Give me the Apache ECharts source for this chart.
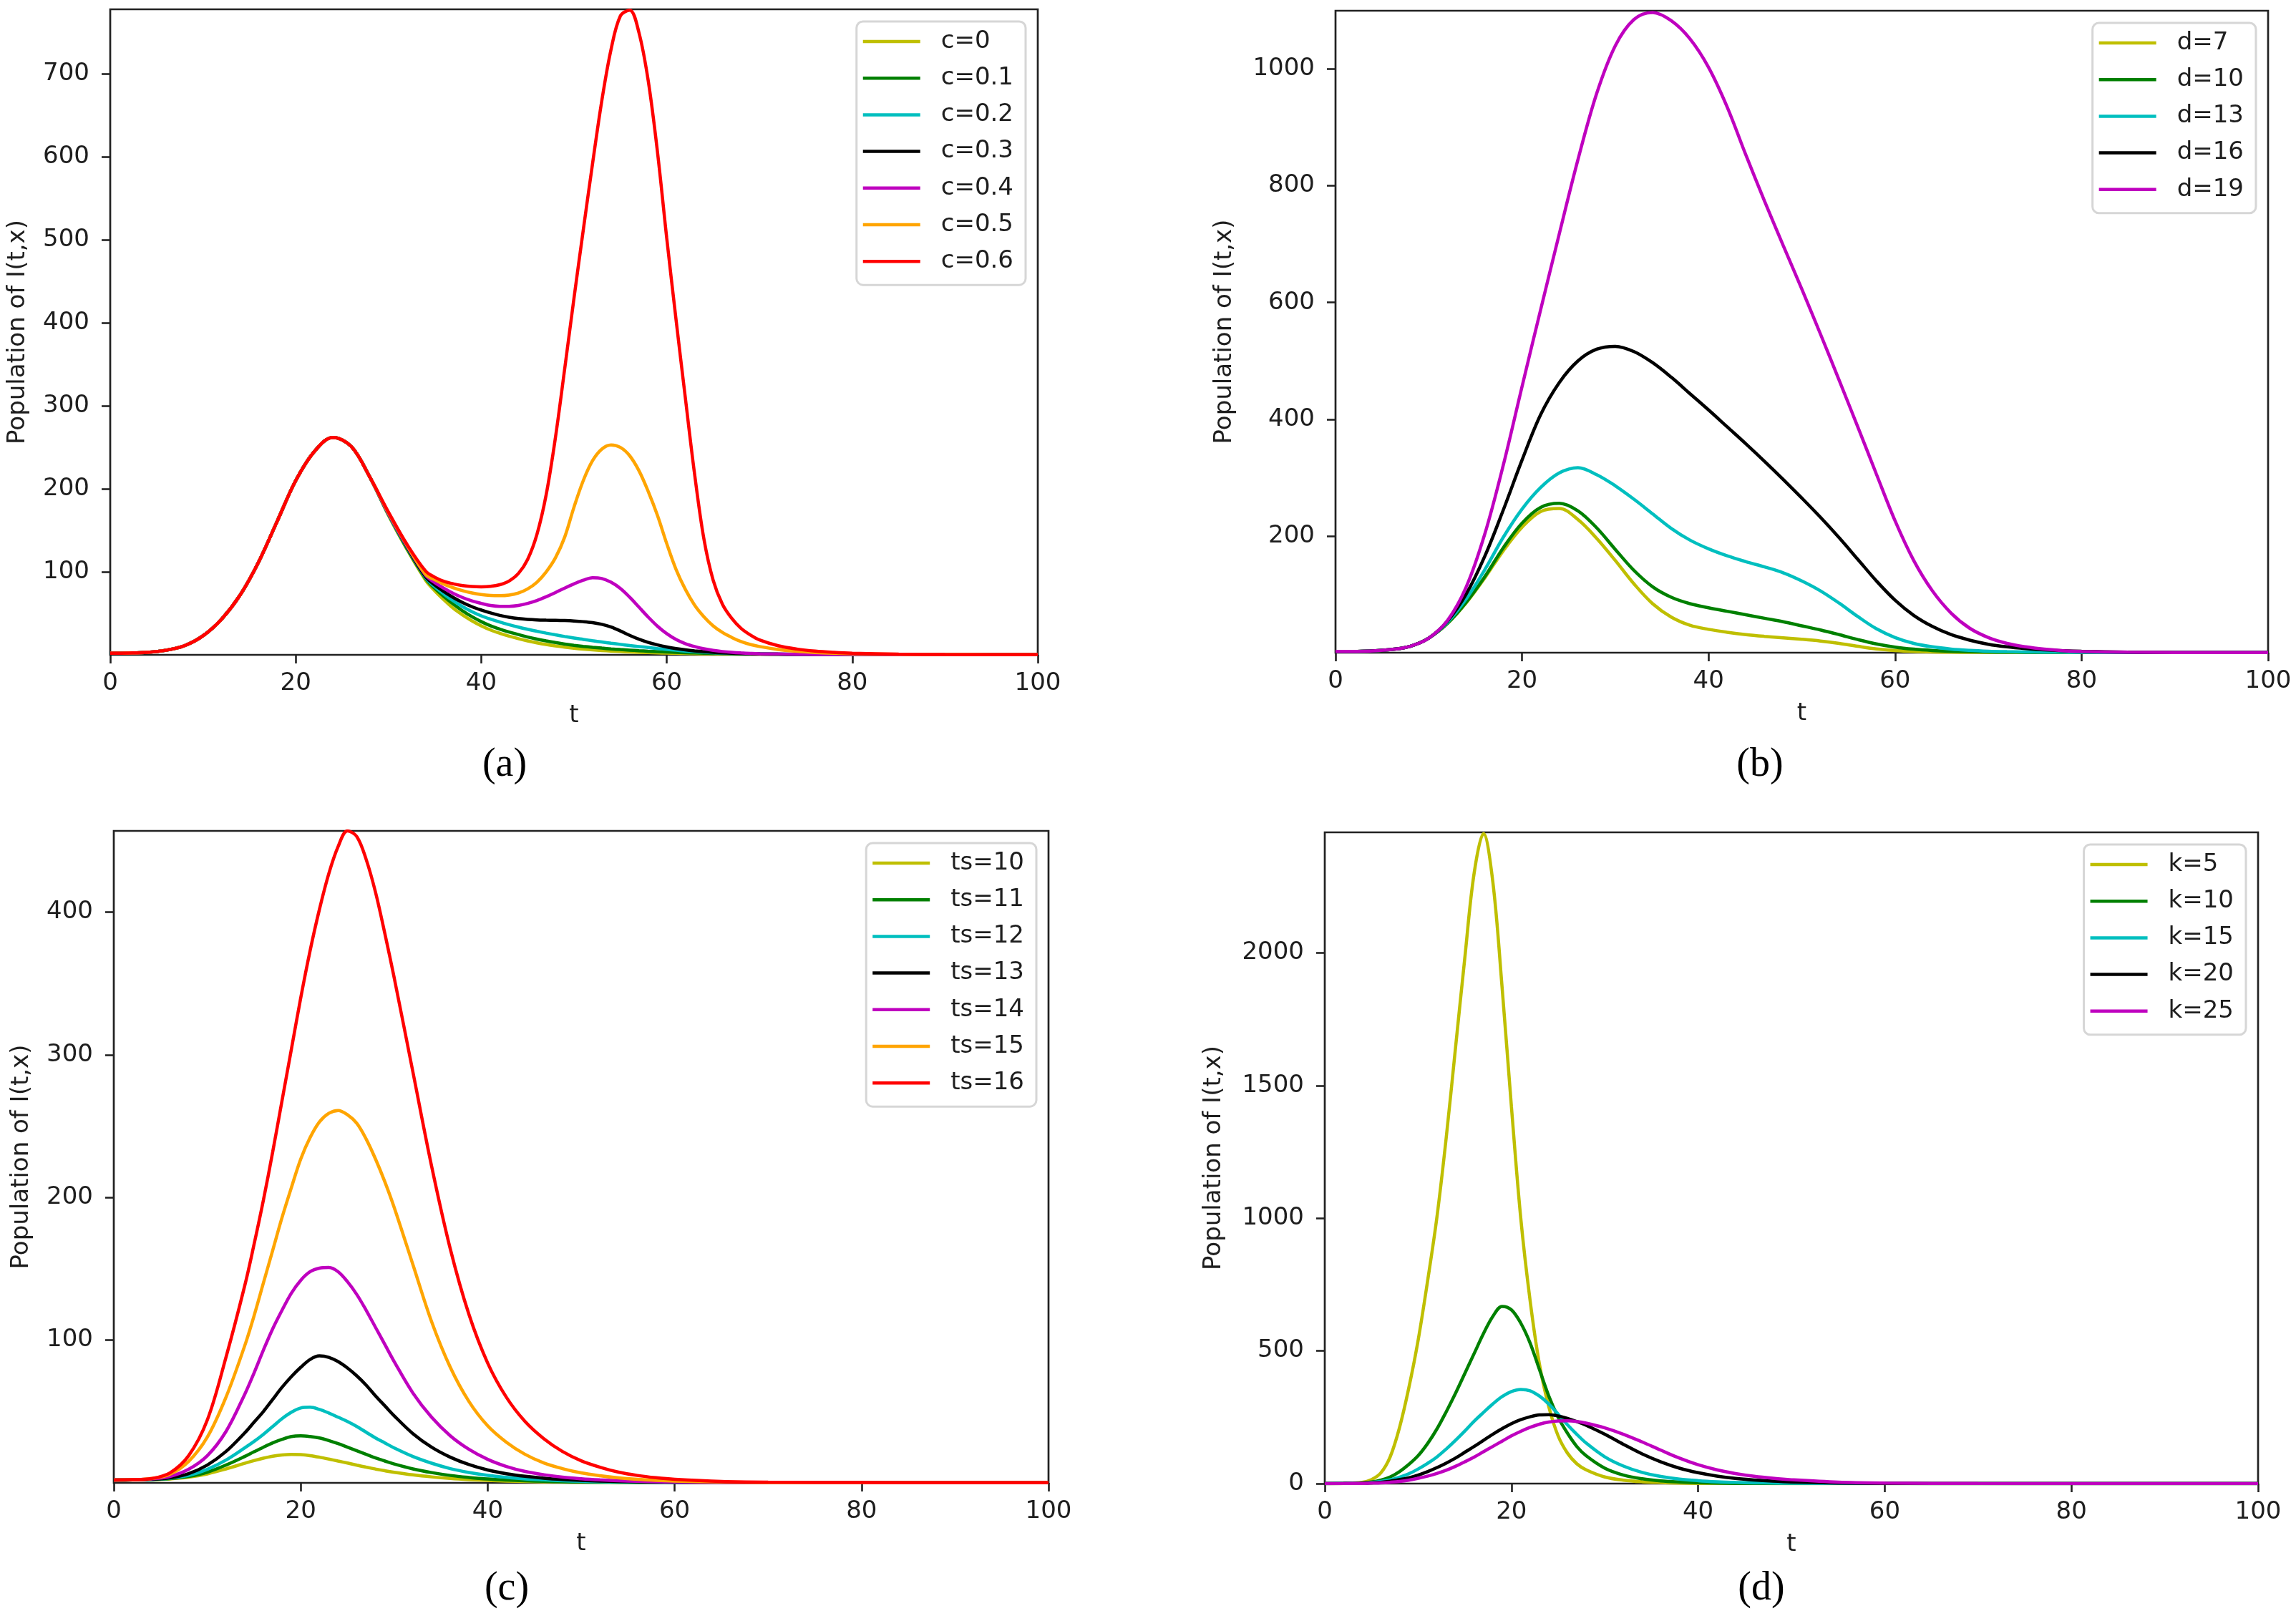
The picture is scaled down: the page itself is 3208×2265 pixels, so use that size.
<!DOCTYPE html>
<html><head><meta charset="utf-8">
<script src="https://cdn.jsdelivr.net/npm/echarts@6/dist/echarts.min.js"></script>
<style>html,body{margin:0;padding:0;background:#fff}#c{width:3208px;height:2265px}</style>
</head><body><div id="c"></div>
<script>
// ---------- DATA ----------
const xTicks = [0, 20, 40, 60, 80, 100];

// Panel (a): parameter c
const tA = [0,2,4,6,8,10,12,14,16,18,20,22,24,26,28,30,32,34,35,36,37,38,39,40,41,42,43,44,45,46,47,48,49,50,51,52,53,54,55,56,57,58,59,60,61,62,63,64,65,66,67,68,69,70,72,74,76,78,80,85,90,95,100];
const namesA = ['c=0','c=0.1','c=0.2','c=0.3','c=0.4','c=0.5','c=0.6'];
const a_c00 = [2,2.2,3,5.5,11,23,43,72,112,161,210,245,262,251,214,168, 127, 90,77,66,56,48,41,35,30,26,22.5, 19.5,16.8,14.5,12.5,10.8,9.3,8,6.9,6,5.2, 4.6,4,3.5,3.1,2.7,2.4,2.1,1.9,1.7,1.5, 1.3,1.2,1.1,1,0.9,0.8,0.8, 0.7,0.6,0.5,0.4,0.4,0.3,0.3,0.3,0.3];
const a_c01 = [2,2.2,3,5.5,11,23,43,72,112,161,210,245,262,251,214,169, 128, 92,80,70,61,53,46,40,35,31,27.5, 24.5,21.5,19,16.8,14.8,13,11.5,10.2,9.1,8.1, 7.2,6.4,5.7,5,4.4,3.9,3.4,3,2.6,2.3, 2,1.8,1.6,1.4,1.2,1.1,1, 0.8,0.7,0.6,0.5,0.4,0.3,0.3,0.3,0.3];
const a_c02 = [2,2.2,3,5.5,11,23,43,72,112,161,210,245,262,251,214,169, 129, 93,82,73,65,58,52,47,43,39.5,36.3, 33.4,30.8,28.4,26.2,24.1,22.1,20.2,18.6,17,15.5, 14,12.6,11.2,10,8.8,7.6,6.5,5.5,4.6,3.8, 3.2,2.6,2.2,1.8,1.5,1.3,1.1, 0.9,0.7,0.6,0.5,0.4,0.3,0.3,0.3,0.3];
const a_c03 = [2,2.2,3,5.5,11,23,43,72,112,161,210,245,262,251,214,170, 130, 94,84,76,69,63,58,54,50.5,47.5,45.3, 43.7,42.7,42.1,41.8,41.6,41.3,40.8,40,38.8,36.8, 33.5,28.8,23.5,18.8,15,12,9.5,7.5,6,4.8, 3.8,3,2.4,1.9,1.5,1.2,1, 0.8,0.6,0.5,0.4,0.4,0.3,0.3,0.3,0.3];
const a_c04 = [2,2.2,3,5.5,11,23,43,72,112,161,210,245,262,251,214,170, 131, 96,87,80,74,69,65,62,59.5,58.5,58.5, 59.5,62,65.5,70,75,80.5,85.5,90,93,92, 87.5,80,69.5,57.5,45.5,34.5,25.5,18.5,13.5,10, 7.3,5.4,4,3,2.3,1.8,1.4, 1,0.7,0.5,0.4,0.4,0.3,0.3,0.3,0.3];
const a_c05 = [2,2.2,3,5.5,11,23,43,72,112,161,210,245,262,251,214,171, 132, 97,90.5,85,80.8,77.3,74.6,72.7,71.6,71.3,72, 74.5,79.5,87.5,100,117,142,178,210,234,248, 253,250,240,222,197,168,134,103,79,60, 46,35,27,21,16,12.5,10, 6.5,4.2,2.8,1.9,1.3,0.6,0.4,0.3,0.3];
const a_c06 = [2,2.2,3,5.5,11,23,43,72,112,161,210,245,262,251,214,172, 133, 101,93.5,88.5,85.5,83.5,82.3,82,82.5,84.5,89, 98,115,145,193,262,345,430,512,592,668, 730,770,777,750,692,606,502,404,310,218, 140,90,61,44,32,24,18, 11,7,4.5,3,2,0.8,0.4,0.3,0.3];
const yTicksA = [100,200,300,400,500,600,700];

// Panel (b): parameter d
const tB = [0,2,4,6,8,10,12,14,16,18,20,22,24,26,28,30,32,34,36,38,40,42,44,46,48,50,52,54,56,58,60,62,64,66,68,70,72,74,76,78,80,85,90,95,100];
const namesB = ['d=7','d=10','d=13','d=16','d=19'];
const b_d07 = [2,2.2,3,5.5,11, 25,50,85,128,175, 215,242,247,228,196, 158,118,84,61,47, 40,35,31,28,25.5, 23,20,16,11,6.5, 3.8,2.2,1.3,0.8,0.6, 0.4,0.3,0.3,0.2,0.2,0.2, 0.2,0.2,0.2,0.2];
const b_d10 = [2,2.2,3,5.5,11, 25,50,86,130,180, 222,249,256,243,214, 177,141,113,95,84, 77,71,65,59,53, 46,39,31,22.5,15, 9.5,6,3.8,2.5,1.7, 1.2,0.9,0.7,0.5,0.4,0.4, 0.3,0.2,0.2,0.2];
const b_d13 = [2,2.2,3,5.5,11, 25,52,92,142,198, 246,283,308,317,305, 286,263,238,213,193, 178,166,156,147,137, 123,106,85,62,41, 26,16,10,6.2,4, 2.6,1.8,1.3,1,0.8,0.6, 0.4,0.3,0.2,0.2];
const b_d16 = [2,2.2,3,5.5,11, 25,54,100,165,245, 330,408,463,500,520, 525,516,497,472,444, 416,387,358,328,297, 265,232,197,160,123, 90,64,45,31,21.5, 14.5,10,7,4.8,3.3,2.3, 0.9,0.4,0.3,0.2];
const b_d19 = [2,2.2,3,5.5,11, 25,55,112,203,322, 456,588,718,845,958, 1040,1085,1097,1083,1052, 1003,935,853,774,698, 623,546,467,387,306, 226,158,106,68,42, 26,16,10,6,3.5,2.2, 0.8,0.4,0.3,0.2];
const yTicksB = [200,400,600,800,1000];

// Panel (c): parameter ts
const tC = [0,2,4,6,8,10,12,14,15,16,17,18,19,20,21,22,23,24,25,26,27,28,29,30,32,34,36,38,40,42,44,46,48,50,52,54,56,58,60,65,70,80,90,100];
const namesC = ['ts=10','ts=11','ts=12','ts=13','ts=14','ts=15','ts=16'];
const c_ts10 = [2,2.1,2.3,2.8,4,6.3,9.8, 13.7,15.6,17.3,18.7,19.6,20,19.8,19.1,18,16.7,15.3,13.9,12.4,11,9.7,8.5,7.4, 5.6,4.2,3.1,2.3,1.7,1.3,1,0.8,0.6,0.5,0.4,0.3,0.3,0.2,0.2, 0.1,0.1,0.1,0.1,0.1];
const c_ts11 = [2,2.1,2.3,3,4.5,7.5,12.5, 18.5,21.8,25,28,30.5,32.5,33,32.5,31.5,29.7,27.5,25,22.5,20,17.5,15.3,13.2, 9.8,7.2,5.2,3.8,2.7,2,1.5,1.1,0.8,0.6,0.5,0.4,0.3,0.3,0.2, 0.1,0.1,0.1,0.1,0.1];
const c_ts12 = [2,2.1,2.4,3.2,5.2,9.5,16, 24.5,29,34,39.5,45,49.5,52.5,53,51.5,49,46,43,39.5,35.5,31.5,28,24.5, 18.5,13.8,10,7.3,5.3,3.9,2.8,2.1,1.5,1.1,0.8,0.6,0.5,0.4,0.3, 0.2,0.1,0.1,0.1,0.1];
const c_ts13 = [2,2.1,2.5,3.5,6.5,12.5,22, 35,42.5,50,58.5,67,74.5,81,86.5,89,88,85,80.5,75,68.5,61,54,47, 34.5,25,18,12.8,9,6.4,4.6,3.3,2.4,1.8,1.3,1,0.7,0.5,0.4, 0.2,0.1,0.1,0.1,0.1];
const c_ts14 = [2,2.2,2.8,4.5,9.5,19,36, 62,77,93,108,121,133,142,148,150.5,151,148,141,132,121,109,97,85, 63,46,33,23.5,16.5,11.5,8,5.7,4,2.9,2.1,1.5,1.1,0.8,0.6, 0.3,0.2,0.1,0.1,0.1];
const c_ts15 = [2,2.2,3,6,15,32,60, 96,117,140,163,186,207,227,242,253,259,261,258,252,241,227,211,193, 153,113,81,57,40,28.5,20,14,10,7,5,3.5,2.5,1.8,1.3, 0.6,0.3,0.1,0.1,0.1];
const c_ts16 = [2,2.2,3,7,19,44,88, 138,167,198,232,268,304,340,373,402,427,446,457,453,437,414,385,354, 288,222,164,118,84,60,43,31,22,15.5,11,7.5,5.2,3.6,2.5, 1,0.5,0.2,0.1,0.1];
const yTicksC = [100,200,300,400];

// Panel (d): parameter k
const tD = [0,2,4,5,6,7,8,9,10,11,12,13,14,15,16,17,18,19,20,21,22,23,24,25,26,27,28,30,32,34,36,38,40,42,44,46,48,50,55,60,65,70,80,90,100];
const namesD = ['k=5','k=10','k=15','k=20','k=25'];
const d_k05 = [0,1,5, 15,40,100,210,360,540,760,1000,1300,1640, 1980,2300,2450,2270,1870,1420,1000,690,450,290, 180,115,75,52, 25,13,7,4,2,1,0.5,0.3,0.2,0.1,0.1, 0,0,0,0,0,0,0];
const d_k10 = [0,1,3, 6,13,25,45,72,105,150,205,270,340, 415,490,565,630,668,655,605,530,430,330, 250,190,140,105, 58,32,18,10,6,3.5,2,1,0.5,0.3,0.2, 0.1,0,0,0,0,0,0];
const d_k15 = [0,1,2, 4,8,14,24,37,55,76,100,130,163, 198,235,268,300,328,347,355,350,330,300, 262,222,186,153, 101,66,42,27,17,11,7,4.5,3,2,1.2, 0.5,0.2,0.1,0,0,0,0];
const d_k20 = [0,0.5,1.5, 3,5,9,15,22,32,45,60,77,96, 118,140,163,186,207,226,241,252,259,260, 255,246,234,220, 186,148,112,82,58,41,28.5,19.5,13.5,9.2,6.3, 2.3,0.8,0.3,0.1,0,0,0];
const d_k25 = [0,0.3,1, 2,3,5,8,13,20,28,38,50,65, 82,100,120,140,160,180,197,212,224,232, 236,237,234,228, 210,186,157,126,96,71,52,38,27.5,20,14.5, 5.5,2,1,0.5,0.2,0.1,0];
const yTicksD = [0,500,1000,1500,2000];

const captions = ['(a)','(b)','(c)','(d)'];
const yName = 'Population of I(t,x)';
const xName = 't';

// ---------- STYLE / LAYOUT ----------
const FONT = 'DejaVu Sans';
const TXT = '#1e1e1e';
const col7 = ['#bfbf00','#008000','#00bfbf','#000000','#bf00bf','#ffa500','#ff0000'];
const col5 = ['#bfbf00','#008000','#00bfbf','#000000','#bf00bf'];

const panels = [
  {grid:{left:154,top:13,width:1296,height:902}, ymax:778, yticks:yTicksA, t:tA, names:namesA, vals:[a_c00,a_c01,a_c02,a_c03,a_c04,a_c05,a_c06], colors:col7, legend:{right:1775, top:30}, yGap:112, cap:{x:705,y:1069}},
  {grid:{left:1866,top:15,width:1303,height:897}, ymax:1100, yticks:yTicksB, t:tB, names:namesB, vals:[b_d07,b_d10,b_d13,b_d16,b_d19], colors:col5, legend:{right:56, top:32}, yGap:138, cap:{x:2459,y:1069}},
  {grid:{left:159,top:1161,width:1306,height:911}, ymax:457, yticks:yTicksC, t:tC, names:namesC, vals:[c_ts10,c_ts11,c_ts12,c_ts13,c_ts14,c_ts15,c_ts16], colors:col7, legend:{right:1760, top:1178}, yGap:112, cap:{x:708,y:2220}},
  {grid:{left:1851,top:1163,width:1304,height:910}, ymax:2455, yticks:yTicksD, t:tD, names:namesD, vals:[d_k05,d_k10,d_k15,d_k20,d_k25], colors:col5, legend:{right:70, top:1180}, yGap:138, cap:{x:2461,y:2220}}
];

const grids = [], xAxes = [], yAxes = [], legends = [], series = [], graphics = [];
const tickStyle = {show:true, inside:false, length:12, lineStyle:{color:'#222', width:2.6}};
const labelStyle = {fontSize:34, fontFamily:FONT, color:TXT};
const plain = v => String(v);

panels.forEach((p, i) => {
  grids.push(Object.assign({show:true, borderColor:'#222', borderWidth:2.7, backgroundColor:'rgba(0,0,0,0)', containLabel:false, outerBoundsMode:'none'}, p.grid));
  xAxes.push({
    gridIndex:i, type:'value', min:0, max:100, interval:20,
    axisLine:{show:false}, splitLine:{show:false},
    axisTick:Object.assign({customValues:xTicks}, tickStyle),
    axisLabel:Object.assign({show:true, margin:23, customValues:xTicks, formatter:plain}, labelStyle),
    name:xName, nameLocation:'middle', nameGap:68, nameTextStyle:labelStyle
  });
  yAxes.push({
    gridIndex:i, type:'value', min:0, max:p.ymax,
    axisLine:{show:false}, splitLine:{show:false},
    axisTick:Object.assign({customValues:p.yticks}, tickStyle),
    axisLabel:Object.assign({show:true, margin:29, customValues:p.yticks, formatter:plain}, labelStyle),
    name:yName, nameLocation:'middle', nameGap:p.yGap, nameRotate:90, nameTextStyle:labelStyle
  });
  legends.push({
    orient:'vertical', right:p.legend.right, top:p.legend.top, data:p.names,
    icon:'rect', itemWidth:80, itemHeight:4.5, itemGap:17.2,
    padding:[11,17,16,9], borderColor:'#d6d6d6', borderWidth:3, borderRadius:9,
    backgroundColor:'rgba(255,255,255,0.85)', selectedMode:false,
    textStyle:{fontSize:34, fontFamily:FONT, color:TXT, lineHeight:34, padding:[0,0,0,24]}
  });
  p.names.forEach((nm, j) => {
    series.push({
      name:nm, type:'line', xAxisIndex:i, yAxisIndex:i,
      data:p.t.map((tv, k) => [tv, p.vals[j][k]]),
      showSymbol:false, symbol:'none', smooth:0.35,
      lineStyle:{color:p.colors[j], width:4.5}, itemStyle:{color:p.colors[j]},
      emphasis:{disabled:true}, clip:true
    });
  });
  graphics.push({type:'text', x:p.cap.x, y:p.cap.y,
    style:{text:captions[i], fontSize:56, fontFamily:'Liberation Serif', fill:'#000', align:'center', verticalAlign:'middle'}});
});

const chart = echarts.init(document.getElementById('c'), null, {renderer:'canvas', width:3208, height:2265});
chart.setOption({
  animation:false, backgroundColor:'#fff',
  grid:grids, xAxis:xAxes, yAxis:yAxes, legend:legends, series:series, graphic:graphics,
  tooltip:{show:false}
});
</script></body></html>
